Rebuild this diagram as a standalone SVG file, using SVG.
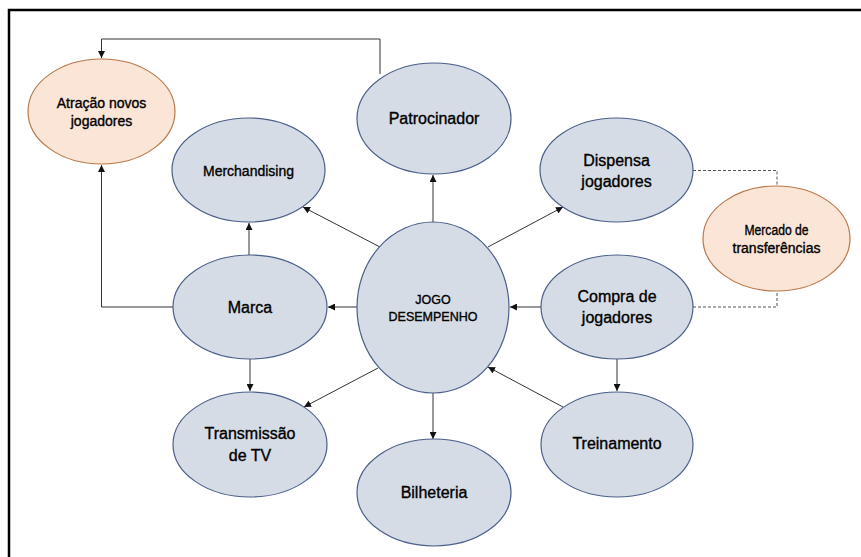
<svg xmlns="http://www.w3.org/2000/svg" width="861" height="557" viewBox="0 0 861 557">
  <style>
    .node { fill: #d6dce5; stroke: #4a5f8a; stroke-width: 1.2; }
    .alt { fill: #fbe5d6; stroke: #b9784a; stroke-width: 1.2; }
    .lbl { font-family: "Liberation Sans", Arial, sans-serif; fill: #000; text-anchor: middle; stroke: #000; stroke-width: 0.35; }
    .edge { fill: none; stroke: #333; stroke-width: 1; }
    .dash { fill: none; stroke: #555; stroke-width: 1; stroke-dasharray: 3 2; }
  </style>
  <defs>
    <marker id="arrow" viewBox="0 0 8 8" refX="8" refY="4" markerWidth="7" markerHeight="7" markerUnits="userSpaceOnUse" orient="auto">
      <path d="M0,0 L8,4 L0,8 Z" fill="#111"/>
    </marker>
  </defs>

  <rect width="861" height="557" fill="#fff"/>
  <!-- outer frame: top and left edges -->
  <path d="M9,557 V10 H861" fill="none" stroke="#000" stroke-width="2.5"/>

  <g id="connectors">
    <path class="edge" d="M380,74 V39 H101.5 V58" stroke="#666" marker-end="url(#arrow)"/>
    <path class="edge" d="M173,307 H101.5 V165" marker-end="url(#arrow)"/>
    <path class="edge" d="M249,255 V223" marker-end="url(#arrow)"/>
    <path class="edge" d="M380,247 L303,207" marker-end="url(#arrow)"/>
    <path class="edge" d="M433,222 V175" marker-end="url(#arrow)"/>
    <path class="edge" d="M488,247 L563,207" marker-end="url(#arrow)"/>
    <path class="dash" d="M693,170.5 H777 V186"/>
    <path class="dash" d="M693,307 H777 V291"/>
    <path class="edge" d="M541,307 H510" marker-end="url(#arrow)"/>
    <path class="edge" d="M357,307 H328" marker-end="url(#arrow)"/>
    <path class="edge" d="M250,359 V391" marker-end="url(#arrow)"/>
    <path class="edge" d="M378,368 L304,407" marker-end="url(#arrow)"/>
    <path class="edge" d="M433,393 V439" marker-end="url(#arrow)"/>
    <path class="edge" d="M617,359 V391" marker-end="url(#arrow)"/>
    <path class="edge" d="M563,407 L488,367" marker-end="url(#arrow)"/>
  </g>

  <g id="atracao">
    <ellipse class="alt" cx="101.5" cy="111.5" rx="73.5" ry="52.5"/>
    <text class="lbl" font-size="14" x="101.5" y="108">Atração novos</text>
    <text class="lbl" font-size="14" x="101.5" y="126">jogadores</text>
  </g>
  <g id="merchandising">
    <ellipse class="node" cx="248.5" cy="170" rx="76.5" ry="52"/>
    <text class="lbl" font-size="14" x="248.5" y="176">Merchandising</text>
  </g>
  <g id="patrocinador">
    <ellipse class="node" cx="434" cy="118.5" rx="77" ry="55.5"/>
    <text class="lbl" font-size="16" x="434" y="124">Patrocinador</text>
  </g>
  <g id="dispensa">
    <ellipse class="node" cx="616.5" cy="170" rx="76.5" ry="52"/>
    <text class="lbl" font-size="16" x="616.5" y="166">Dispensa</text>
    <text class="lbl" font-size="16" x="616.5" y="187">jogadores</text>
  </g>
  <g id="mercado">
    <ellipse class="alt" cx="776.5" cy="238.5" rx="73.5" ry="52.5"/>
    <text class="lbl" font-size="14" x="776.5" y="235" textLength="64" lengthAdjust="spacingAndGlyphs">Mercado de</text>
    <text class="lbl" font-size="14" x="776.5" y="253">transferências</text>
  </g>
  <g id="jogo">
    <ellipse class="node" cx="433" cy="307.5" rx="76" ry="85.5"/>
    <text class="lbl" font-size="12.5" x="433" y="304">JOGO</text>
    <text class="lbl" font-size="12.5" x="433" y="320.5">DESEMPENHO</text>
  </g>
  <g id="marca">
    <ellipse class="node" cx="250" cy="307" rx="77" ry="52"/>
    <text class="lbl" font-size="16" x="250" y="313">Marca</text>
  </g>
  <g id="compra">
    <ellipse class="node" cx="617" cy="307" rx="76" ry="52"/>
    <text class="lbl" font-size="16" x="617" y="302">Compra de</text>
    <text class="lbl" font-size="16" x="617" y="323">jogadores</text>
  </g>
  <g id="transmissao">
    <ellipse class="node" cx="250" cy="444.5" rx="77" ry="52.5"/>
    <text class="lbl" font-size="16" x="250" y="439">Transmissão</text>
    <text class="lbl" font-size="16" x="250" y="461">de TV</text>
  </g>
  <g id="treinamento">
    <ellipse class="node" cx="617" cy="444.5" rx="76" ry="52.5"/>
    <text class="lbl" font-size="16" x="617" y="449">Treinamento</text>
  </g>
  <g id="bilheteria">
    <ellipse class="node" cx="434" cy="492.5" rx="77" ry="53.5"/>
    <text class="lbl" font-size="16" x="434" y="498">Bilheteria</text>
  </g>
</svg>
